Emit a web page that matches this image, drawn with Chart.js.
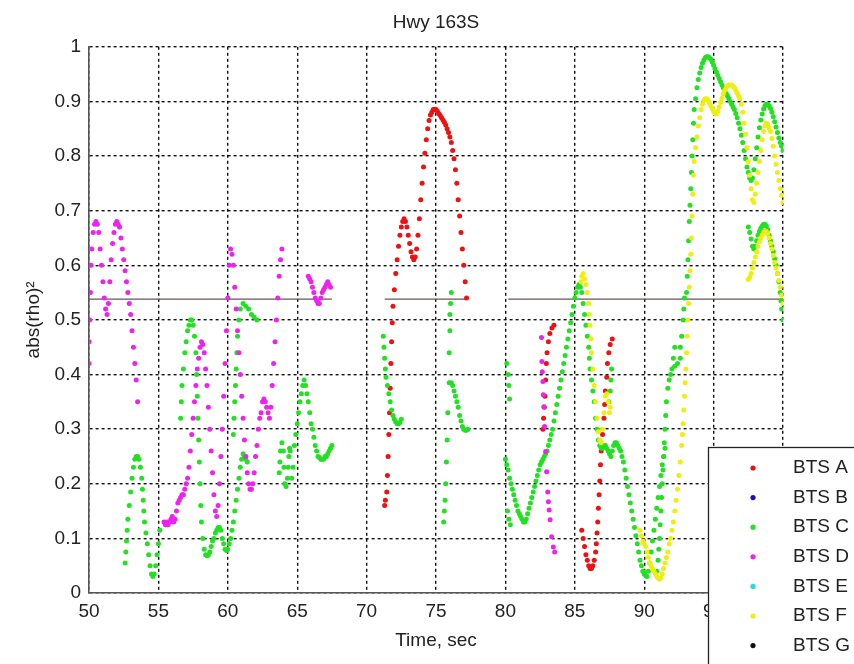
<!DOCTYPE html>
<html>
<head>
<meta charset="utf-8">
<title>Hwy 163S</title>
<script src="https://cdn.jsdelivr.net/npm/chart.js@4.4.0/dist/chart.umd.min.js"></script>
<style>
  html, body { margin: 0; padding: 0; background: #fff; }
  #wrap { width: 854px; height: 664px; }
</style>
</head>
<body>
<div id="wrap"><canvas id="myChart" width="854" height="664"></canvas></div>
<script>
// series names and colours (MATLAB default order)
let names = ['BTS A', 'BTS B', 'BTS C', 'BTS D', 'BTS E', 'BTS F', 'BTS G'];
let colors = ['#ee1111', '#1111cc', '#22e022', '#ee22ee', '#22dddd', '#eeee11', '#111111'];

// [time sec, abs(rho)^2]
let btsA = [
  [71.3,0.16],[71.35,0.17],[71.45,0.185],[71.5,0.215],[71.55,0.25],[71.6,0.29],[71.65,0.33],[71.7,0.375],
  [71.75,0.42],[71.8,0.46],[71.85,0.495],[71.9,0.525],[72.0,0.555],[72.1,0.585],[72.2,0.61],[72.3,0.635],
  [72.4,0.655],[72.5,0.67],[72.6,0.68],[72.7,0.685],[72.8,0.68],[72.9,0.67],[73.0,0.655],[73.1,0.64],
  [73.2,0.625],[73.3,0.615],[73.4,0.61],[73.5,0.615],[73.6,0.63],[73.7,0.655],[73.8,0.685],[73.9,0.72],
  [74.0,0.75],[74.1,0.78],[74.2,0.805],[74.3,0.83],[74.4,0.85],[74.5,0.865],[74.6,0.875],[74.7,0.88],
  [74.8,0.885],[74.9,0.885],[75.0,0.885],[75.1,0.882],[75.2,0.878],[75.3,0.874],[75.4,0.87],[75.5,0.866],
  [75.6,0.862],[75.7,0.857],[75.8,0.85],[75.9,0.843],[76.0,0.835],[76.1,0.825],[76.2,0.81],[76.3,0.795],
  [76.4,0.775],[76.5,0.75],[76.6,0.72],[76.7,0.69],[76.8,0.66],[76.9,0.63],[77.0,0.6],[77.1,0.57],[77.2,0.54],
  [82.7,0.3],[82.75,0.32],[82.8,0.34],[82.85,0.36],[82.9,0.39],[82.95,0.42],[83.0,0.44],[83.1,0.46],
  [83.2,0.475],[83.35,0.485],[83.5,0.49],
  [85.5,0.115],[85.6,0.1],[85.7,0.085],[85.8,0.07],[85.9,0.06],[86.0,0.05],[86.1,0.045],[86.2,0.045],
  [86.3,0.05],[86.4,0.06],[86.5,0.075],[86.55,0.09],[86.6,0.11],[86.65,0.13],[86.7,0.155],[86.75,0.18],
  [86.8,0.205],[86.85,0.235],[86.9,0.26],[87.0,0.29],[87.1,0.32],[87.15,0.345],[87.2,0.37],[87.3,0.395],
  [87.35,0.42],[87.45,0.44],[87.55,0.455],[87.7,0.465]
];

let btsB = [];

let btsC = [
  [52.6,0.055],[52.65,0.075],[52.7,0.095],[52.75,0.115],[52.8,0.135],[52.9,0.16],[53.0,0.185],[53.1,0.21],
  [53.2,0.23],[53.3,0.245],[53.4,0.25],[53.5,0.25],[53.6,0.245],[53.7,0.23],[53.8,0.21],[53.85,0.19],
  [53.9,0.17],[53.95,0.15],[54.0,0.13],[54.1,0.11],[54.2,0.09],[54.3,0.07],[54.4,0.05],[54.5,0.035],
  [54.6,0.03],[54.7,0.035],[54.8,0.05],[54.9,0.07],[55.0,0.09],[55.1,0.115],
  [56.6,0.32],[56.65,0.35],[56.7,0.38],[56.8,0.41],[56.9,0.44],[57.0,0.46],[57.1,0.48],[57.2,0.49],
  [57.3,0.5],[57.4,0.5],[57.5,0.49],[57.6,0.47],[57.7,0.44],[57.75,0.4],[57.8,0.36],[57.85,0.32],
  [57.9,0.28],[57.95,0.24],[58.0,0.2],[58.05,0.16],[58.1,0.13],[58.2,0.1],[58.3,0.08],[58.4,0.07],
  [58.5,0.068],[58.6,0.07],[58.7,0.075],[58.8,0.085],[58.9,0.095],[59.0,0.1],[59.1,0.11],[59.2,0.115],
  [59.3,0.12],[59.4,0.12],[59.5,0.115],[59.6,0.1],[59.7,0.09],[59.8,0.08],[59.9,0.078],[60.0,0.08],
  [60.1,0.09],[60.2,0.1],[60.3,0.115],[60.4,0.13],[60.5,0.15],[60.6,0.17],[60.7,0.19],[60.8,0.21],
  [60.9,0.23],[61.0,0.245],[61.1,0.255],[61.2,0.25],[61.3,0.245],[61.4,0.24],
  [60.4,0.29],[60.45,0.32],[60.5,0.35],[60.55,0.38],[60.6,0.41],[60.65,0.44],[60.7,0.47],[60.8,0.5],
  [60.9,0.52],[61.1,0.53],[61.3,0.525],[61.5,0.52],[61.7,0.51],[61.9,0.505],[62.1,0.5],
  [63.7,0.22],[63.75,0.24],[63.8,0.26],[63.9,0.275],[64.0,0.26],[64.05,0.23],[64.1,0.2],[64.2,0.195],
  [64.3,0.21],[64.35,0.23],[64.4,0.25],[64.45,0.265],[64.5,0.26],[64.6,0.21],[64.7,0.23],[64.8,0.27],
  [64.9,0.29],[65.0,0.31],[65.1,0.33],[65.2,0.35],[65.3,0.365],[65.4,0.38],[65.5,0.39],[65.6,0.38],
  [65.7,0.365],[65.8,0.35],[65.9,0.33],[66.0,0.31],[66.1,0.3],[66.2,0.285],[66.3,0.27],[66.4,0.26],
  [66.5,0.25],[66.6,0.248],[66.7,0.245],[66.8,0.245],[66.9,0.245],[67.0,0.25],[67.1,0.25],[67.2,0.255],
  [67.3,0.26],[67.4,0.265],[67.5,0.27],
  [71.2,0.47],[71.25,0.45],[71.3,0.43],[71.35,0.41],[71.4,0.395],[71.5,0.38],[71.6,0.365],[71.7,0.35],
  [71.8,0.335],[71.9,0.325],[72.0,0.318],[72.1,0.313],[72.2,0.31],[72.3,0.31],[72.4,0.312],[72.5,0.318],
  [76.1,0.55],[76.05,0.53],[76.0,0.51],[76.0,0.48],[75.95,0.44],[75.85,0.33],[75.8,0.28],[75.75,0.24],
  [75.7,0.2],[75.65,0.17],[75.6,0.15],[75.55,0.13],
  [75.95,0.385],[76.1,0.385],[76.2,0.38],[76.3,0.37],[76.4,0.36],[76.5,0.35],[76.6,0.34],[76.7,0.325],
  [76.8,0.315],[76.9,0.305],[77.0,0.3],[77.1,0.298],[77.2,0.298],[77.3,0.3],
  [80.1,0.42],[80.2,0.4],[80.25,0.38],[80.3,0.355],[80.15,0.15],[80.25,0.135],[80.35,0.125],
  [80.0,0.245],[80.1,0.235],[80.2,0.225],[80.3,0.21],[80.4,0.2],[80.5,0.19],[80.6,0.18],[80.7,0.17],
  [80.8,0.16],[80.9,0.15],[81.0,0.145],[81.1,0.14],[81.2,0.135],[81.3,0.13],[81.4,0.13],[81.5,0.135],
  [81.6,0.145],[81.7,0.155],[81.8,0.165],[81.9,0.175],[82.0,0.185],[82.1,0.195],[82.2,0.205],[82.3,0.215],
  [82.4,0.225],[82.5,0.235],[82.6,0.24],[82.7,0.245],[82.8,0.25],[82.9,0.255],[83.0,0.26],[83.1,0.27],
  [83.2,0.28],[83.3,0.29],[83.4,0.3],[83.5,0.315],[83.6,0.33],[83.7,0.345],[83.8,0.36],[83.9,0.375],
  [84.0,0.39],[84.1,0.405],[84.2,0.42],[84.3,0.435],[84.4,0.45],[84.5,0.465],[84.6,0.48],[84.7,0.495],
  [84.8,0.51],[84.9,0.525],[85.0,0.54],[85.1,0.55],[85.2,0.56],[85.3,0.565],[85.4,0.56],
  [85.5,0.55],[85.6,0.53],[85.7,0.51],[85.8,0.49],[85.9,0.47],[86.0,0.45],[86.05,0.43],[86.1,0.41],
  [86.2,0.39],[86.3,0.37],[86.4,0.35],[86.5,0.32],[86.6,0.3],[86.7,0.28],[86.8,0.27],[86.9,0.265],
  [87.0,0.265],[87.1,0.27],[87.2,0.27],[87.3,0.265],[87.4,0.26],[87.5,0.255],[87.6,0.25],[87.7,0.26],
  [87.8,0.27],[87.9,0.275],[88.0,0.275],[88.1,0.27],[88.2,0.265],[88.3,0.26],[88.4,0.25],[88.5,0.24],
  [88.6,0.225],[88.7,0.21],[88.8,0.195],[88.9,0.18],[89.0,0.165],[89.1,0.15],[89.2,0.135],[89.3,0.12],
  [89.4,0.105],[89.5,0.09],[89.6,0.075],[89.7,0.06],[89.8,0.05],[89.9,0.04],[90.0,0.035],[90.1,0.032],
  [90.2,0.03],[90.3,0.04],[90.4,0.055],[90.5,0.075],[90.6,0.095],[90.7,0.115],[90.8,0.135],[90.9,0.155],
  [91.0,0.175],[91.1,0.195],[91.2,0.215],[91.3,0.235],[91.4,0.25],[91.5,0.265],
  [87.45,0.35],[87.55,0.37],[87.6,0.39],[87.65,0.41],
  [90.9,0.04],[91.0,0.06],[91.05,0.08],[91.1,0.1],[91.15,0.125],[91.2,0.15],[91.25,0.175],[91.3,0.2],
  [91.35,0.225],[91.4,0.25],[91.45,0.275],[91.5,0.3],[91.55,0.325],[91.6,0.35],[91.7,0.375],[91.8,0.39],
  [91.9,0.4],[92.0,0.41],[92.2,0.415],[92.4,0.42],[92.6,0.43],[92.1,0.43],[92.2,0.45],
  [92.6,0.45],[92.7,0.47],[92.8,0.5],[92.85,0.52],[92.9,0.54],
  [93.05,0.55],[93.1,0.58],[93.15,0.61],[93.2,0.645],[93.25,0.68],[93.3,0.71],[93.35,0.74],[93.4,0.77],
  [93.45,0.8],[93.5,0.83],[93.55,0.86],[93.6,0.885],[93.7,0.905],[93.8,0.925],[93.9,0.94],[94.0,0.952],
  [94.1,0.962],[94.2,0.97],[94.3,0.976],[94.4,0.98],[94.5,0.982],[94.6,0.982],[94.7,0.98],[94.8,0.977],
  [94.9,0.972],[95.0,0.966],[95.1,0.96],[95.2,0.954],[95.3,0.948],[95.4,0.942],[95.5,0.936],[95.6,0.93],
  [95.7,0.925],[95.8,0.92],[95.9,0.915],[96.0,0.91],[96.1,0.905],[96.2,0.9],[96.3,0.895],[96.4,0.89],
  [96.5,0.885],[96.6,0.878],[96.7,0.87],[96.8,0.86],[96.9,0.85],[97.0,0.838],[97.1,0.825],[97.2,0.81],
  [97.3,0.795],[97.4,0.78],[97.5,0.77],[97.6,0.76],[97.7,0.755],[97.8,0.76],[97.9,0.775],[98.0,0.795],
  [98.1,0.815],[98.2,0.835],[98.3,0.852],[98.4,0.866],[98.5,0.877],[98.6,0.886],[98.7,0.892],[98.8,0.895],
  [98.9,0.895],[99.0,0.892],[99.1,0.887],[99.2,0.88],[99.3,0.872],[99.4,0.863],[99.5,0.853],[99.6,0.843],
  [99.7,0.833],[99.8,0.825],[99.9,0.818],[100.0,0.81],
  [97.5,0.67],[97.6,0.66],[97.7,0.648],[97.8,0.635],[97.9,0.63],[98.0,0.635],[98.1,0.645],[98.2,0.655],
  [98.3,0.662],[98.4,0.668],[98.5,0.672],[98.6,0.675],[98.7,0.675],[98.8,0.672],[98.9,0.665],[99.0,0.655],
  [99.1,0.645],[99.2,0.635],[99.3,0.625],[99.4,0.612],[99.5,0.6],[99.6,0.585],[99.7,0.57],[99.8,0.55],
  [99.85,0.535],[99.9,0.52],[100.0,0.5]
];

let btsD = [
  [50.0,0.42],[50.0,0.46],[50.05,0.5],[50.1,0.55],[50.15,0.6],[50.2,0.63],[50.3,0.66],[50.4,0.675],
  [50.5,0.68],[50.6,0.675],[50.7,0.66],[50.8,0.63],[50.9,0.6],[51.0,0.57],[51.1,0.54],[51.2,0.52],
  [51.3,0.51],[51.4,0.53],[51.5,0.57],[51.6,0.61],[51.7,0.64],[51.8,0.66],[51.9,0.675],[52.0,0.68],
  [52.1,0.675],[52.2,0.67],[52.3,0.65],[52.4,0.63],[52.5,0.61],[52.6,0.59],[52.7,0.57],[52.8,0.55],
  [52.9,0.53],[53.0,0.51],[53.1,0.48],[53.2,0.45],[53.3,0.42],[53.4,0.39],[53.5,0.35],
  [55.4,0.13],[55.5,0.125],[55.6,0.13],[55.7,0.125],[55.8,0.13],[55.9,0.135],[56.0,0.14],[56.1,0.13],
  [56.2,0.135],[56.3,0.15],[56.4,0.165],[56.5,0.17],[56.6,0.175],[56.7,0.18],[56.8,0.18],[56.9,0.19],
  [57.0,0.2],[57.1,0.21],[57.2,0.23],[57.3,0.26],[57.4,0.29],[57.5,0.32],[57.6,0.35],[57.7,0.38],
  [57.8,0.41],[57.9,0.43],[58.0,0.45],[58.1,0.46],[58.2,0.455],[58.3,0.44],[58.4,0.41],[58.5,0.38],
  [58.6,0.34],[58.7,0.3],[58.8,0.26],[58.9,0.22],[59.0,0.18],[59.1,0.15],[59.2,0.14],[59.3,0.16],
  [59.4,0.2],[59.5,0.25],[59.6,0.3],[59.7,0.36],[59.8,0.42],[59.9,0.48],[60.0,0.54],[60.1,0.6],
  [60.2,0.63],[60.3,0.62],[60.4,0.6],[60.5,0.56],[60.6,0.52],[60.7,0.48],[60.8,0.44],[60.9,0.4],
  [61.0,0.36],[61.1,0.32],[61.2,0.28],[61.3,0.25],[61.4,0.22],[61.5,0.2],[61.6,0.19],[61.7,0.19],
  [61.8,0.2],[61.9,0.22],[62.0,0.25],[62.1,0.27],[62.2,0.3],[62.3,0.32],[62.4,0.33],[62.5,0.35],
  [62.6,0.355],[62.7,0.35],[62.8,0.34],[62.9,0.33],[63.0,0.32],[63.1,0.34],[63.2,0.38],[63.3,0.42],
  [63.4,0.46],[63.5,0.5],[63.6,0.54],[63.7,0.58],[63.8,0.61],[63.9,0.63],
  [65.8,0.58],[65.9,0.575],[66.0,0.57],[66.1,0.56],[66.2,0.55],[66.3,0.54],[66.4,0.535],[66.5,0.53],
  [66.6,0.53],[66.7,0.54],[66.8,0.55],[66.9,0.555],[67.0,0.56],[67.1,0.565],[67.2,0.57],[67.3,0.565],[67.4,0.56],
  [82.6,0.468],[82.63,0.424],[82.66,0.405],[82.7,0.387],[82.73,0.363],[82.77,0.341],[82.82,0.305],
  [82.9,0.259],[82.97,0.222],[83.05,0.185],[83.1,0.167],[83.15,0.152],[83.22,0.134],[83.33,0.103],
  [83.45,0.084],[83.55,0.075]
];

let btsE = [];

let btsF = [
  [85.45,0.57],[85.5,0.58],[85.6,0.585],[85.7,0.575],[85.8,0.565],[85.9,0.55],[86.0,0.53],[86.05,0.51],
  [86.1,0.49],[86.15,0.465],[86.2,0.44],[86.3,0.41],[86.4,0.38],[86.5,0.35],[86.6,0.32],[86.7,0.295],
  [86.8,0.28],[86.9,0.275],[87.0,0.3],[87.1,0.33],[87.2,0.36],[87.3,0.365],[87.4,0.35],[87.5,0.33],[87.55,0.34],
  [89.7,0.115],[89.8,0.105],[89.9,0.095],[90.0,0.09],[90.1,0.085],[90.2,0.075],[90.3,0.065],[90.4,0.055],
  [90.5,0.05],[90.6,0.045],[90.7,0.04],[90.8,0.035],[90.9,0.03],[91.0,0.028],[91.1,0.025],[91.2,0.028],
  [91.3,0.035],[91.4,0.045],[91.5,0.055],[91.6,0.065],[91.7,0.075],[91.8,0.09],[91.9,0.1],[92.0,0.115],
  [92.1,0.13],[92.2,0.15],[92.3,0.17],[92.4,0.19],[92.5,0.215],[92.6,0.24],[92.7,0.27],[92.75,0.29],
  [92.8,0.31],[92.85,0.335],[92.9,0.36],[92.95,0.385],[93.0,0.41],[93.05,0.44],[93.1,0.47],[93.15,0.5],
  [93.2,0.53],[93.25,0.56],[93.3,0.59],[93.35,0.62],[93.4,0.65],[93.45,0.69],[93.5,0.73],[93.55,0.765],
  [93.6,0.79],[93.7,0.815],[93.8,0.835],[93.9,0.855],[94.0,0.87],[94.1,0.885],[94.2,0.895],[94.3,0.902],
  [94.4,0.905],[94.5,0.905],[94.6,0.902],[94.7,0.897],[94.8,0.892],[94.9,0.887],[95.0,0.882],[95.1,0.878],
  [95.2,0.877],[95.3,0.882],[95.4,0.89],[95.5,0.898],[95.6,0.906],[95.7,0.914],[95.8,0.92],[95.9,0.925],
  [96.0,0.928],[96.1,0.93],[96.2,0.93],[96.3,0.93],[96.4,0.928],[96.5,0.925],[96.6,0.92],[96.7,0.915],
  [96.8,0.91],[96.9,0.905],[97.0,0.895],[97.1,0.88],[97.2,0.86],[97.3,0.84],[97.4,0.815],[97.5,0.79],
  [97.6,0.765],[97.7,0.74],[97.8,0.72],[97.9,0.715],[98.0,0.73],[98.1,0.75],[98.2,0.77],[98.3,0.79],
  [98.4,0.81],[98.5,0.83],[98.6,0.845],[98.7,0.855],[98.8,0.86],[98.9,0.858],[99.0,0.852],[99.1,0.845],
  [99.2,0.832],[99.3,0.818],[99.4,0.8],[99.5,0.785],[99.6,0.77],[99.7,0.755],[99.8,0.74],[99.9,0.728],[100.0,0.715],
  [97.5,0.574],[97.6,0.578],[97.7,0.585],[97.8,0.595],[97.9,0.605],[98.0,0.615],[98.1,0.625],[98.2,0.635],
  [98.3,0.643],[98.4,0.65],[98.5,0.655],[98.6,0.66],[98.7,0.662],[98.8,0.662],[98.9,0.658],[99.0,0.65],
  [99.1,0.64],[99.2,0.63],[99.3,0.618],[99.4,0.605],[99.5,0.595],[99.6,0.585],[99.7,0.572],[99.8,0.56],
  [99.9,0.545],[100.0,0.53]
];

let btsG = [];

// threshold line and the time spans where it is drawn
let thresholdLevel = 0.538;
let thresholdSpans = [[50, 67.5], [71.3, 77.3], [80.2, 100]];

// axis ticks
let xTicks = [50, 55, 60, 65, 70, 75, 80, 85, 90, 95, 100];
let yTicks = [0, 0.1, 0.2, 0.3, 0.4, 0.5, 0.6, 0.7, 0.8, 0.9, 1];

let series = [btsA, btsB, btsC, btsD, btsE, btsF, btsG];
let fontFam = '"Liberation Sans", Arial, Helvetica, sans-serif';

let datasets = series.map((s, i) => ({
    label: names[i],
    data: s.map(p => ({x: p[0], y: p[1]})),
    backgroundColor: colors[i],
    borderWidth: 0,
    pointRadius: 2.5,
    pointHoverRadius: 2.5,
    order: 7 - i
}));

thresholdSpans.forEach(sp => {
    datasets.push({
        type: 'line',
        label: '',
        data: [{x: sp[0], y: thresholdLevel}, {x: sp[1], y: thresholdLevel}],
        borderColor: '#6b5555',
        borderWidth: 1.3,
        pointRadius: 0,
        fill: false,
        order: 10
    });
});

// boxed legend drawn over the lower right corner, like the MATLAB figure
let boxLegend = {
    id: 'boxLegend',
    afterDraw(chart) {
        let ctx = chart.ctx;
        ctx.save();
        ctx.fillStyle = '#fff';
        ctx.fillRect(708, 447, 160, 230);
        ctx.strokeStyle = '#222';
        ctx.lineWidth = 1.3;
        ctx.strokeRect(708.5, 447.5, 160, 230);
        ctx.font = '19px ' + fontFam;
        ctx.textBaseline = 'middle';
        names.forEach((n, i) => {
            let y = 468 + i * 29.6;
            ctx.fillStyle = colors[i];
            ctx.beginPath();
            ctx.arc(753, y, 2.6, 0, Math.PI * 2);
            ctx.fill();
            ctx.fillStyle = '#222';
            ctx.fillText(n, 793, y);
        });
        ctx.restore();
    }
};

let mychart = document.getElementById('myChart').getContext('2d');

let chart = new Chart(mychart, {
    type: 'scatter',
    data: { datasets: datasets },
    plugins: [boxLegend],
    options: {
        responsive: false,
        animation: false,
        events: [],
        layout: { padding: { left: 0, right: 71, top: 0, bottom: 0 } },
        plugins: {
            legend: { display: false },
            tooltip: { enabled: false },
            title: {
                display: true,
                text: 'Hwy 163S',
                fullSize: false,
                color: '#222',
                font: { family: fontFam, size: 19, weight: 'normal' },
                padding: { top: 11, bottom: 13 }
            }
        },
        scales: {
            x: {
                type: 'linear',
                min: 50,
                max: 100,
                afterFit: s => { s.height = 71; },
                afterBuildTicks: s => { s.ticks = xTicks.map(v => ({value: v})); },
                ticks: { color: '#222', padding: 7, font: { family: fontFam, size: 19 }, callback: v => String(v) },
                grid: { color: '#111', lineWidth: 1.4, drawTicks: false },
                border: { display: true, color: '#555', width: 1.6, dash: [3, 3] },
                title: {
                    display: true, text: 'Time, sec', color: '#222',
                    font: { family: fontFam, size: 19 }, padding: { top: 0, bottom: 12 }
                }
            },
            y: {
                type: 'linear',
                min: 0,
                max: 1,
                afterFit: s => { s.width = 89; },
                afterBuildTicks: s => { s.ticks = yTicks.map(v => ({value: v})); },
                ticks: { color: '#222', padding: 8, font: { family: fontFam, size: 19 }, callback: v => String(v) },
                grid: { color: '#111', lineWidth: 1.4, drawTicks: false },
                border: { display: true, color: '#555', width: 1.6, dash: [3, 3] },
                title: {
                    display: true, text: 'abs(rho)\u00b2', color: '#222',
                    font: { family: fontFam, size: 19 }, padding: { top: 22, bottom: 0 }
                }
            }
        }
    }
});
</script>
</body>
</html>
